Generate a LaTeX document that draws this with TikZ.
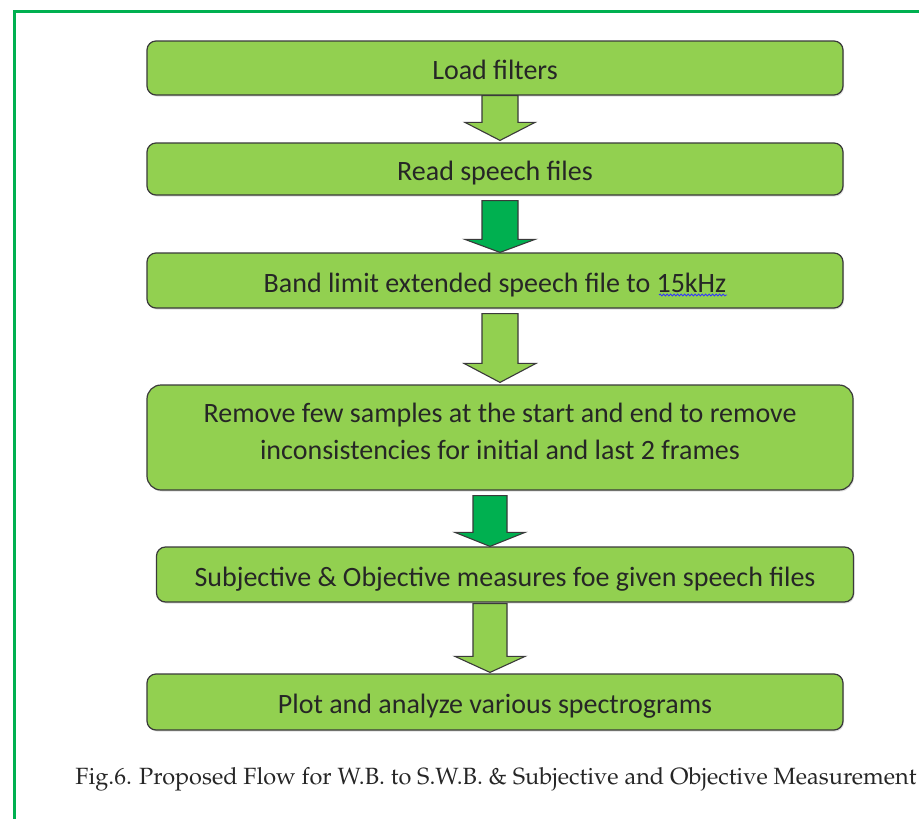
\documentclass[tikz,border=0pt]{standalone}
\usepackage{fontspec}
\setmainfont{Carlito}
\usetikzlibrary{calc,shadows,decorations.pathmorphing}
\definecolor{leaf}{HTML}{92D050}
\definecolor{deepgreen}{HTML}{00B050}
\definecolor{edge}{HTML}{3A3A3A}
\tikzset{
  stepbox/.style={draw=edge, line width=1.2pt, fill=leaf, rounded corners=9pt,
    font=\fontsize{28}{34}\selectfont, text=black!85, inner sep=0pt,
    drop shadow={shadow xshift=1pt, shadow yshift=-1.5pt, opacity=0.25}},
  blockarrow/.style={draw=edge, line width=1.1pt, line join=miter},
}
% block arrow between two named boxes:
% #1 fill, #2 upper box, #3 lower box, #4 centre x, #5 gap below upper box,
% #6 gap above lower box, #7 head length, #8 shaft half width, #9 head half width
\newcommand\flowarrow[9]{%
  \path[blockarrow, fill=#1] let \p1=(#2.south), \p2=(#3.north) in
    (#4pt-#8pt, \y1-#5pt) -- (#4pt+#8pt, \y1-#5pt) -- (#4pt+#8pt, \y2+#6pt+#7pt)
    -- (#4pt+#9pt, \y2+#6pt+#7pt) -- (#4pt, \y2+#6pt) -- (#4pt-#9pt, \y2+#6pt+#7pt)
    -- (#4pt-#8pt, \y2+#6pt+#7pt) -- cycle;}
% one line of box text, baseline a fixed distance below the box centre
\newcommand\lowered[1]{\raisebox{-11.5pt}[0pt][0pt]{#1}}
\begin{document}
\begin{tikzpicture}[x=1pt, y=-1pt]
\useasboundingbox (0,0) rectangle (919,819);
\fill[white] (0,0) rectangle (919,819);
% outer frame
\draw[deepgreen, line width=3pt] (14,819) -- (14,11) -- (919,11);

\node[stepbox, minimum width=696pt, minimum height=54pt] (b1) at (495,68) {\lowered{Load filters}};
\node[stepbox, minimum width=696pt, minimum height=52pt] (b2) at (495,169) {\lowered{Read speech files}};
\node[stepbox, minimum width=696pt, minimum height=55pt] (b3) at (495,280.5) {\lowered{Band limit extended speech file to 15kHz}};
\node[stepbox, minimum width=706pt, minimum height=105pt, rounded corners=14pt] (b4) at (500,437.5)
  {\raisebox{-21.5pt}[0pt][0pt]{\parbox[b]{700pt}{\centering\fontsize{28}{37}\selectfont
    Remove few samples at the start and end to remove\\inconsistencies for initial and last 2 frames}}};
\node[stepbox, minimum width=697pt, minimum height=55pt] (b5) at (505,574.5) {\lowered{Subjective \& Objective measures foe given speech files}};
\node[stepbox, minimum width=696pt, minimum height=56pt] (b6) at (495,702) {\lowered{Plot and analyze various spectrograms}};

% spell-check underline under 15kHz
\draw[blue!80, line width=0.8pt, decorate,
      decoration={snake, amplitude=1pt, segment length=3.5pt}] (659,295) -- (727,295);

\flowarrow{leaf}{b1}{b2}{500}{0}{2}{18}{18}{35}
\flowarrow{deepgreen}{b2}{b3}{500}{5}{0}{13}{18}{35}
\flowarrow{leaf}{b3}{b4}{500}{5}{2}{19}{18}{36}
\flowarrow{deepgreen}{b4}{b5}{490}{5}{0}{14}{17}{35}
\flowarrow{leaf}{b5}{b6}{490}{1}{1}{16}{17}{35}

\node[font={\fontencoding{T1}\fontfamily{ppl}\fontsize{23.5}{28}\selectfont}, text=black!85, inner sep=0pt]
  (cap) at (496,779) {Fig.6. Proposed Flow for W.B. to S.W.B. \& Subjective and Objective Measurement};
\end{tikzpicture}
\end{document}
